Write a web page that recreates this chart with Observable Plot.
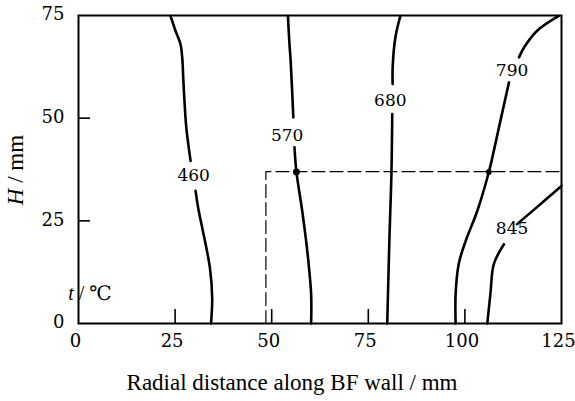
<!DOCTYPE html>
<html><head><meta charset="utf-8">
<script src="https://cdn.jsdelivr.net/npm/d3@7"></script>
<script src="https://cdn.jsdelivr.net/npm/@observablehq/plot@0.6"></script>
<style>body{margin:0;background:#fff}</style>
</head><body><div id="chart"></div>
<script>
// axis ticks
const xTicks = [0, 25, 50, 75, 100, 125];
const yTicks = [0, 25, 50, 75];
const xInnerTicks = [25, 50, 75, 100];
const yInnerTicks = [25, 50];

// isotherm segments: [radial distance mm, H mm]
const iso460a = [[23.8,74.9],[25.1,71.3],[26.4,68.0],[26.9,64.0],[27.1,59.9],[27.5,53.0],[27.9,47.7],[29.0,39.6]];
const iso460b = [[30.3,32.3],[31.0,28.0],[32.0,23.4],[34.0,13.6],[34.6,6.3],[34.3,0]];
const iso570a = [[54.2,74.9],[54.6,68.0],[54.9,64.0],[55.6,50.2]];
const iso570b = [[55.9,42.9],[56.4,36.9],[57.9,27.4],[59.2,17.7],[60.2,7.2],[60.2,0]];
const iso680a = [[83.3,74.9],[82.0,69.6],[81.3,62.3],[81.3,58.3]];
const iso680b = [[81.2,51.0],[81.0,37.0],[80.5,21.8],[79.9,0]];
const iso790a = [[124.3,74.9],[118.7,71.3],[115.3,67.2],[114.0,64.8]];
const iso790b = [[111.4,58.7],[109.2,49.4],[107.5,42.1],[106.2,36.9],[103.2,27.4],[100.2,20.1],[98.4,14.5],[97.6,7.2],[97.6,0]];
const iso845a = [[125,33.5],[119.6,29.1],[113.5,24.2]];
const iso845b = [[110.1,19.3],[107.5,14.5],[106.6,7.2],[105.8,0]];

// isotherm labels
const labelText = ["460", "570", "680", "790", "845"];
const labelX = [29.8, 54.0, 80.7, 112.2, 112.2];
const labelY = [36.0, 45.7, 54.2, 61.5, 23.0];

// marked points and dashed guide
const markX = [56.4, 106.2];
const markY = [36.9, 36.9];
const markR = [3.2, 2.2];
const guideX = [48.5, 48.5, 125];
const guideY = [0, 37, 37];

const segs = {iso460a, iso460b, iso570a, iso570b, iso680a, iso680b, iso790a, iso790b, iso845a, iso845b};
const lineData = Object.entries(segs).flatMap(([k, pts]) => pts.map(([x, y]) => ({seg: k, x, y})));
const labels = labelText.map((t, i) => ({t, x: labelX[i], y: labelY[i]}));
const marks = markX.map((x, i) => ({x, y: markY[i], r: markR[i]}));
const guide = guideX.map((x, i) => ({x, y: guideY[i]}));
const xTickData = xTicks.map(v => ({v, s: String(v)}));
const yTickData = yTicks.map(v => ({v, s: String(v)}));

const W = 575, H = 401, mL = 78, mR = 14, mT = 15, mB = 78;
const plotW = W - mL - mR, plotH = H - mT - mB;
const ff = "'Liberation Serif', 'DejaVu Serif', serif";
const fNum = "'DejaVu Serif', serif";

const chart = Plot.plot({
  width: W, height: H,
  marginLeft: mL, marginRight: mR, marginTop: mT, marginBottom: mB,
  style: {fontFamily: ff, fontSize: "20px", color: "#000", background: "#fff"},
  x: {domain: [0, 125], axis: null},
  y: {domain: [0, 75], axis: null},
  marks: [
    Plot.text(xTickData, {x: "v", text: "s", frameAnchor: "bottom", dy: 23, dx: -3, fontSize: 18, fontFamily: fNum, fontVariant: "normal", fill: "#000"}),
    Plot.text(yTickData, {y: "v", text: "s", frameAnchor: "left", textAnchor: "end", dx: -14, dy: -1, fontSize: 18, fontFamily: fNum, fontVariant: "normal", fill: "#000"}),
    Plot.tickX(xInnerTicks, {x: d => d, insetTop: plotH - 14, stroke: "#000", strokeWidth: 1.6}),
    Plot.tickY(yInnerTicks, {y: d => d, insetRight: plotW - 12, stroke: "#000", strokeWidth: 1.6}),
    Plot.line(guide, {x: "x", y: "y", stroke: "#000", strokeWidth: 1.2, strokeDasharray: "13,5"}),
    Plot.line(lineData, {x: "x", y: "y", z: "seg", curve: "catmull-rom", stroke: "#000", strokeWidth: 2.6}),
    Plot.dot(marks, {x: "x", y: "y", r: "r", fill: "#000"}),
    Plot.text(labels, {x: "x", y: "y", text: "t", fontSize: 17, fontFamily: fNum, fontVariant: "normal", fill: "#000"}),
    Plot.frame({stroke: "#000", strokeWidth: 2})
  ]
});
document.getElementById("chart").appendChild(chart);

const svg = d3.select(chart);
// x-axis title
svg.append("text").attr("x", 292).attr("y", 390).attr("text-anchor", "middle")
  .attr("font-size", 23).attr("fill", "#000")
  .text("Radial distance along BF wall / mm");
// y-axis title
const yt = svg.append("text").attr("transform", "translate(23,170) rotate(-90)").attr("text-anchor", "middle")
  .attr("font-size", 23).attr("fill", "#000");
yt.append("tspan").attr("font-style", "italic").text("H");
yt.append("tspan").text(" / mm");
// unit note
const ut = svg.append("text").attr("x", 90).attr("y", 300)
  .attr("font-size", 20).attr("fill", "#000");
ut.append("tspan").attr("font-style", "italic").text("t");
ut.append("tspan").text(" / ℃");
svg.selectAll("text").each(function() {
  const num = /^\s*\d+\s*$/.test(this.textContent);
  const f = num ? fNum : ff;
  d3.select(this).attr("font-family", f).style("font-family", f).attr("font-variant", null).style("font-variant", "normal");
});
</script>
</body></html>
